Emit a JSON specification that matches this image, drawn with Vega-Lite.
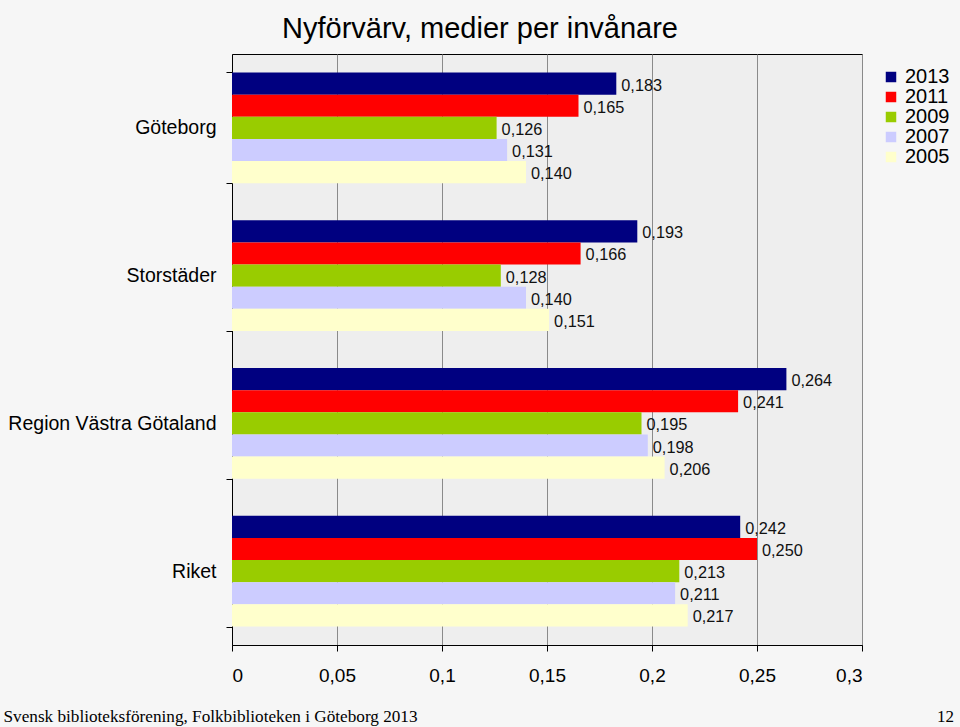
{
  "$schema": "https://vega.github.io/schema/vega-lite/v6.json",
  "autosize": "none",
  "width": 630,
  "height": 591,
  "padding": {"left": 232, "top": 54, "right": 98, "bottom": 82},
  "background": "#f6f6f6",
  "title": {
    "text": "Nyförvärv, medier per invånare",
    "font": "Liberation Sans",
    "fontSize": 29,
    "fontWeight": "normal",
    "color": "#000",
    "anchor": "middle",
    "dx": -67,
    "dy": 10,
    "offset": 10
  },
  "data": {
    "values": [
      {"region": "Göteborg", "year": "2013", "value": 0.183},
      {"region": "Göteborg", "year": "2011", "value": 0.165},
      {"region": "Göteborg", "year": "2009", "value": 0.126},
      {"region": "Göteborg", "year": "2007", "value": 0.131},
      {"region": "Göteborg", "year": "2005", "value": 0.140},
      {"region": "Storstäder", "year": "2013", "value": 0.193},
      {"region": "Storstäder", "year": "2011", "value": 0.166},
      {"region": "Storstäder", "year": "2009", "value": 0.128},
      {"region": "Storstäder", "year": "2007", "value": 0.140},
      {"region": "Storstäder", "year": "2005", "value": 0.151},
      {"region": "Region Västra Götaland", "year": "2013", "value": 0.264},
      {"region": "Region Västra Götaland", "year": "2011", "value": 0.241},
      {"region": "Region Västra Götaland", "year": "2009", "value": 0.195},
      {"region": "Region Västra Götaland", "year": "2007", "value": 0.198},
      {"region": "Region Västra Götaland", "year": "2005", "value": 0.206},
      {"region": "Riket", "year": "2013", "value": 0.242},
      {"region": "Riket", "year": "2011", "value": 0.250},
      {"region": "Riket", "year": "2009", "value": 0.213},
      {"region": "Riket", "year": "2007", "value": 0.211},
      {"region": "Riket", "year": "2005", "value": 0.217}
    ]
  },
  "encoding": {
    "y": {
      "field": "region",
      "type": "nominal",
      "sort": ["Göteborg", "Storstäder", "Region Västra Götaland", "Riket"],
      "scale": {"paddingInner": 0.25, "paddingOuter": 0.125},
      "axis": {
        "title": "12",
        "titleAngle": 0,
        "titleX": 713,
        "titleY": 662,
        "titleAlign": "center",
        "titleBaseline": "middle",
        "titleFont": "Liberation Serif",
        "titleFontSize": 17,
        "titleFontWeight": "normal",
        "titleColor": "#000",
        "labelFont": "Liberation Sans",
        "labelFontSize": 19.5,
        "labelColor": "#000",
        "labelLimit": 0,
        "labelPadding": 10,
        "tickBand": "extent",
        "tickSize": 6,
        "tickColor": "#000",
        "domainColor": "#000",
        "grid": false
      }
    },
    "yOffset": {
      "field": "year",
      "type": "nominal",
      "sort": ["2013", "2011", "2009", "2007", "2005"],
      "scale": {"paddingInner": 0, "paddingOuter": 0}
    },
    "x": {
      "field": "value",
      "type": "quantitative",
      "scale": {"domain": [0, 0.3], "nice": false},
      "axis": {
        "values": [0, 0.05, 0.1, 0.15, 0.2, 0.25, 0.3],
        "format": "~g",
        "title": "Svensk biblioteksförening, Folkbiblioteken i Göteborg 2013",
        "titleX": -229,
        "titleY": 71,
        "titleAlign": "left",
        "titleAnchor": null,
        "titleBaseline": "middle",
        "titleFont": "Liberation Serif",
        "titleFontSize": 17.2,
        "titleFontWeight": "normal",
        "titleColor": "#000",
        "labelFont": "Liberation Sans",
        "labelFontSize": 19,
        "labelColor": "#000",
        "labelPadding": 15,
        "tickSize": 6,
        "tickColor": "#000",
        "domainColor": "#000",
        "grid": true,
        "gridColor": "#8a8a8a",
        "gridWidth": 1
      }
    }
  },
  "layer": [
    {
      "mark": {"type": "bar"},
      "encoding": {
        "color": {
          "field": "year",
          "type": "nominal",
          "sort": ["2013", "2011", "2009", "2007", "2005"],
          "scale": {
            "domain": ["2013", "2011", "2009", "2007", "2005"],
            "range": ["#000080", "#ff0000", "#99cc00", "#ccccff", "#ffffcc"]
          },
          "legend": {
            "title": null,
            "orient": "none",
            "legendX": 649,
            "legendY": 13,
            "symbolType": "square",
            "symbolSize": 110,
            "symbolStrokeWidth": 0,
            "symbolOpacity": 1,
            "labelFont": "Liberation Sans",
            "labelFontSize": 20,
            "labelColor": "#000",
            "labelOffset": 4,
            "rowPadding": -1.3
          }
        }
      }
    },
    {
      "mark": {
        "type": "text",
        "align": "left",
        "baseline": "middle",
        "dx": 5,
        "dy": 2,
        "font": "Liberation Sans",
        "fontSize": 16.3,
        "color": "#111"
      },
      "encoding": {
        "text": {"field": "value", "type": "quantitative", "format": ".3f"}
      }
    }
  ],
  "config": {
    "locale": {
      "number": {"decimal": ",", "thousands": " ", "grouping": [3], "currency": ["", " kr"]}
    },
    "view": {"fill": "#eeeeee", "stroke": "#000", "strokeWidth": 1}
  }
}
